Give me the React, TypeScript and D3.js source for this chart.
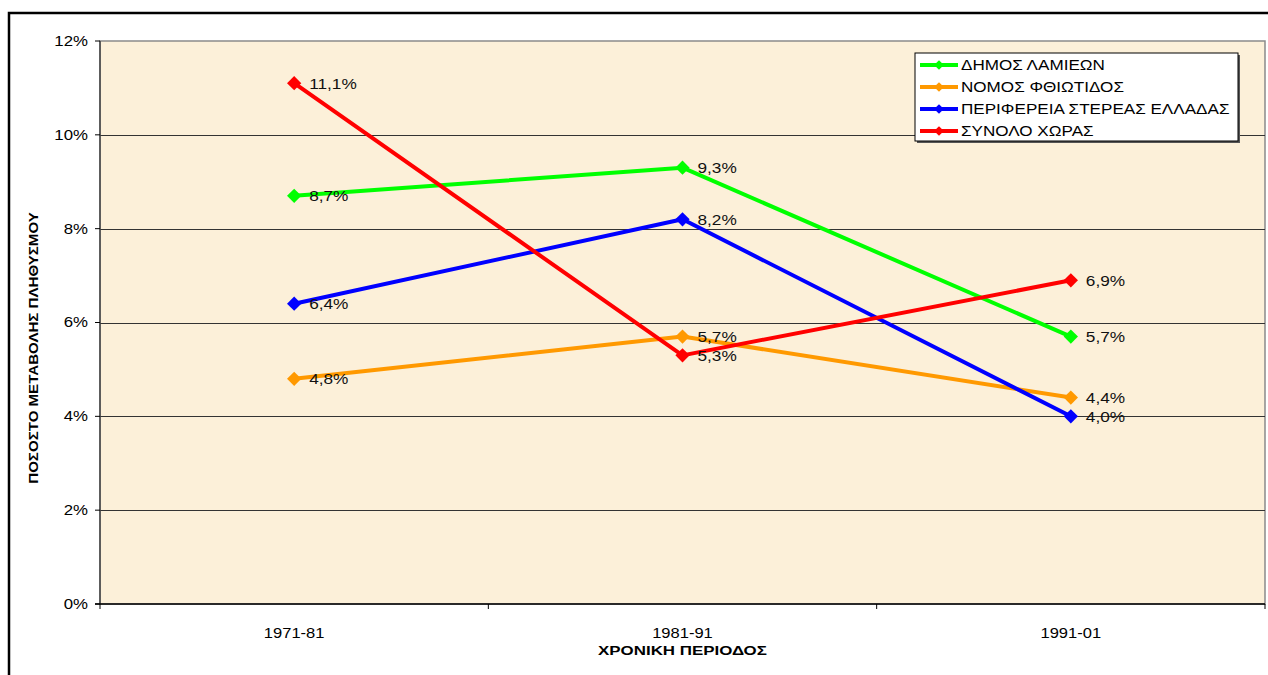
import * as d3 from "d3";
import { useEffect, useRef } from "react";

const periods = ["1971-81", "1981-91", "1991-01"];
const seriesNames = [
  "ΔΗΜΟΣ ΛΑΜΙΕΩΝ",
  "ΝΟΜΟΣ ΦΘΙΩΤΙΔΟΣ",
  "ΠΕΡΙΦΕΡΕΙΑ ΣΤΕΡΕΑΣ ΕΛΛΑΔΑΣ",
  "ΣΥΝΟΛΟ ΧΩΡΑΣ",
];
const dimosLamieon = [8.7, 9.3, 5.7];
const nomosFthiotidos = [4.8, 5.7, 4.4];
const perifereia = [6.4, 8.2, 4.0];
const synoloXoras = [11.1, 5.3, 6.9];
const seriesColors = ["#00ff00", "#ff9900", "#0000ff", "#ff0000"];
const yTicks = [0, 2, 4, 6, 8, 10, 12];

const W = 1268;
const H = 675;

// the source picture is stretched sideways, so widen the glyphs to match
const stretch = (sel: any, k: number) => {
  sel.each(function (this: SVGTextElement) {
    const w = this.getComputedTextLength();
    d3.select(this)
      .attr("textLength", w * k)
      .attr("lengthAdjust", "spacingAndGlyphs");
  });
};

const App = () => {
  const svgRef = useRef<SVGSVGElement>(null);

  useEffect(() => {
    const margin = { top: 41, left: 100, right: 3, bottom: 71 };
    const svg = d3.select(svgRef.current).attr("width", W).attr("height", H);
    svg.selectAll("*").remove();

    const font = "Arial, 'Liberation Sans', sans-serif";
    const allSeries = [dimosLamieon, nomosFthiotidos, perifereia, synoloXoras];

    // outer chart border
    svg
      .append("rect")
      .attr("x", 9)
      .attr("y", 13)
      .attr("width", W + 20)
      .attr("height", H + 20)
      .attr("fill", "white")
      .attr("stroke", "#000")
      .attr("stroke-width", 2.5);

    const x = d3
      .scaleBand()
      .domain(periods)
      .range([margin.left, W - margin.right])
      .padding(0);
    const y = d3
      .scaleLinear()
      .domain([0, 12])
      .range([H - margin.bottom, margin.top]);

    const x0 = margin.left;
    const x1 = W - margin.right;

    // plot background
    svg
      .append("rect")
      .attr("x", x0)
      .attr("y", y(12))
      .attr("width", x1 - x0)
      .attr("height", y(0) - y(12))
      .attr("fill", "#fcf0d9")
      .attr("stroke", "#8a8a8a")
      .attr("stroke-width", 1.5);

    // gridlines
    svg
      .selectAll(".grid")
      .data(yTicks.filter((d) => d > 0 && d < 12))
      .join("line")
      .attr("x1", x0)
      .attr("x2", x1)
      .attr("y1", (d) => Math.round(y(d)) + 0.5)
      .attr("y2", (d) => Math.round(y(d)) + 0.5)
      .attr("stroke", "#333")
      .attr("stroke-width", 1);

    // axes
    svg
      .append("line")
      .attr("x1", x0)
      .attr("x2", x0)
      .attr("y1", y(12))
      .attr("y2", y(0))
      .attr("stroke", "#444")
      .attr("stroke-width", 1.5);
    svg
      .append("line")
      .attr("x1", x0 - 5)
      .attr("x2", x1)
      .attr("y1", y(0))
      .attr("y2", y(0))
      .attr("stroke", "#000")
      .attr("stroke-width", 1.5);

    svg
      .selectAll(".ytick")
      .data(yTicks)
      .join("line")
      .attr("x1", x0 - 5)
      .attr("x2", x0)
      .attr("y1", (d) => y(d))
      .attr("y2", (d) => y(d))
      .attr("stroke", "#000");
    const yLabels = svg
      .selectAll(".ylabel")
      .data(yTicks)
      .join("text")
      .attr("x", x0 - 12)
      .attr("y", (d) => y(d))
      .attr("dy", "0.35em")
      .attr("text-anchor", "end")
      .attr("font-family", font)
      .attr("font-size", 14)
      .text((d) => d + "%");
    stretch(yLabels, 1.2);

    const bounds = periods.map((p) => x(p)!).concat([x1]);
    svg
      .selectAll(".xtick")
      .data(bounds)
      .join("line")
      .attr("x1", (d) => d)
      .attr("x2", (d) => d)
      .attr("y1", y(0))
      .attr("y2", y(0) + 5)
      .attr("stroke", "#000");
    const xLabels = svg
      .selectAll(".xlabel")
      .data(periods)
      .join("text")
      .attr("x", (d) => x(d)! + x.bandwidth() / 2)
      .attr("y", y(0) + 34)
      .attr("text-anchor", "middle")
      .attr("font-family", font)
      .attr("font-size", 14)
      .text((d) => d);
    stretch(xLabels, 1.18);

    // axis titles
    const xTitle = svg
      .append("text")
      .attr("x", (x0 + x1) / 2)
      .attr("y", 655)
      .attr("text-anchor", "middle")
      .attr("font-family", font)
      .attr("font-size", 13)
      .attr("font-weight", "bold")
      .text("ΧΡΟΝΙΚΗ ΠΕΡΙΟΔΟΣ");
    stretch(xTitle, 1.3);
    const yTitle = svg
      .append("text")
      .attr("transform", `translate(38,348) rotate(-90)`)
      .attr("text-anchor", "middle")
      .attr("font-family", font)
      .attr("font-size", 13)
      .attr("font-weight", "bold")
      .text("ΠΟΣΟΣΤΟ ΜΕΤΑΒΟΛΗΣ ΠΛΗΘΥΣΜΟΥ");
    stretch(yTitle, 1.16);

    const cx = (i: number) => x(periods[i])! + x.bandwidth() / 2;
    const line = d3
      .line<number>()
      .x((d, i) => cx(i))
      .y((d) => y(d));
    const diamond = d3.symbol().type(d3.symbolDiamond2).size(130);

    allSeries.forEach((vals, s) => {
      const g = svg.append("g");
      g.append("path")
        .attr("d", line(vals))
        .attr("fill", "none")
        .attr("stroke", seriesColors[s])
        .attr("stroke-width", 4)
        .attr("stroke-linejoin", "round");
      g.selectAll("path.m")
        .data(vals)
        .join("path")
        .attr("class", "m")
        .attr("transform", (d, i) => `translate(${cx(i)},${y(d)})`)
        .attr("d", diamond)
        .attr("fill", seriesColors[s]);
    });

    // data labels
    allSeries.forEach((vals) => {
      const t = svg
        .append("g")
        .selectAll("text")
        .data(vals)
        .join("text")
        .attr("x", (d, i) => cx(i) + 15)
        .attr("y", (d) => y(d))
        .attr("dy", "0.38em")
        .attr("font-family", font)
        .attr("font-size", 14)
        .attr("fill", "#111")
        .text((d) => d.toFixed(1).replace(".", ",") + "%");
      stretch(t, 1.23);
    });

    // legend
    const lg = svg.append("g").attr("transform", "translate(915,53)");
    lg.append("rect")
      .attr("x", 2)
      .attr("y", 2)
      .attr("width", 323)
      .attr("height", 88)
      .attr("fill", "#555");
    lg.append("rect")
      .attr("width", 323)
      .attr("height", 88)
      .attr("fill", "white")
      .attr("stroke", "#000")
      .attr("stroke-width", 1);
    seriesNames.forEach((name, s) => {
      const ly = 12 + s * 22;
      lg.append("line")
        .attr("x1", 5)
        .attr("x2", 43)
        .attr("y1", ly)
        .attr("y2", ly)
        .attr("stroke", seriesColors[s])
        .attr("stroke-width", 4);
      lg.append("path")
        .attr("transform", `translate(24,${ly})`)
        .attr("d", d3.symbol().type(d3.symbolDiamond2).size(60)())
        .attr("fill", seriesColors[s]);
      const t = lg
        .append("text")
        .attr("x", 46)
        .attr("y", ly)
        .attr("dy", "0.36em")
        .attr("font-family", font)
        .attr("font-size", 14)
        .text(name);
      stretch(t, 1.22);
    });
  }, []);

  return (
    <svg
      ref={svgRef}
      style={{ position: "absolute", left: 0, top: 0, display: "block" }}
    ></svg>
  );
};

export default App;
